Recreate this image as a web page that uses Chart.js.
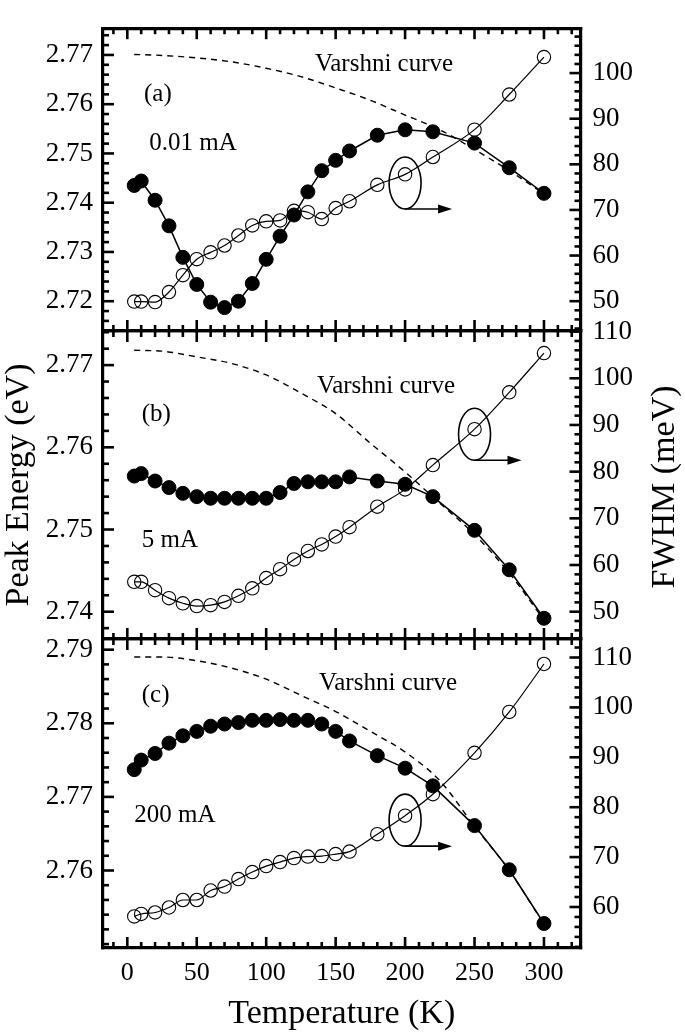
<!DOCTYPE html>
<html>
<head>
<meta charset="utf-8">
<script src="https://cdn.jsdelivr.net/npm/chart.js@4.4.0/dist/chart.umd.min.js"></script>
<style>
  html, body { margin: 0; padding: 0; background: #fff; }
  #wrap { position: relative; width: 685px; height: 1036px; }
  canvas { position: absolute; left: 0; top: 0; }
</style>
</head>
<body>
<div id="wrap">
  <canvas id="panelA" width="685" height="1036"></canvas>
  <canvas id="panelB" width="685" height="1036"></canvas>
  <canvas id="panelC" width="685" height="1036"></canvas>
</div>
<script>
// temperatures of the measured points (K)
const temps = [5, 10, 20, 30, 40, 50, 60, 70, 80, 90, 100, 110, 120, 130, 140, 150, 160, 180, 200, 220, 250, 275, 300];

// (a) 0.01 mA
const peakA = [2.7435, 2.7444, 2.7405, 2.7353, 2.7289, 2.7234, 2.7198, 2.7187, 2.7200, 2.7236, 2.7285, 2.7332,
               2.7375, 2.7422, 2.7465, 2.7486, 2.7505, 2.7537, 2.7548, 2.7544, 2.7521, 2.7471, 2.7419];
const fwhmA = [49.9, 49.9, 49.8, 52.0, 55.7, 59.2, 60.7, 62.2, 64.4, 66.6, 67.5, 67.7,
               69.8, 69.5, 68.0, 70.4, 71.9, 75.5, 77.8, 81.6, 87.6, 95.3, 103.5];

// (b) 5 mA
const peakB = [2.7565, 2.7568, 2.7559, 2.7551, 2.7544, 2.7540, 2.7538, 2.7538, 2.7538, 2.7538, 2.7538, 2.7545,
               2.7556, 2.7558, 2.7558, 2.7558, 2.7564, 2.7559, 2.7555, 2.7540, 2.7499, 2.7451, 2.7392];
const fwhmB = [56.4, 56.4, 54.6, 52.9, 51.8, 51.2, 51.4, 52.1, 53.4, 55.0, 57.2, 59.1,
               61.2, 63.0, 64.4, 66.1, 68.1, 72.5, 76.2, 81.4, 89.1, 97.0, 105.4];

// (c) 200 mA
const peakC = [2.7737, 2.7750, 2.7759, 2.7773, 2.7783, 2.7789, 2.7796, 2.7799, 2.7801, 2.7804, 2.7804, 2.7805,
               2.7804, 2.7804, 2.7799, 2.7789, 2.7776, 2.7756, 2.7739, 2.7715, 2.7661, 2.7601, 2.7528];
const fwhmC = [58.1, 58.6, 58.9, 59.9, 61.4, 61.4, 63.3, 64.1, 65.6, 67.0, 68.2, 69.0,
               69.8, 70.1, 70.2, 70.6, 71.1, 74.6, 78.3, 82.6, 90.9, 99.1, 108.7];

// Varshni curves (dashed)
const varshniT = [5, 25, 50, 75, 100, 125, 150, 175, 200, 225, 250, 275, 300];
const varshniA = [2.7701, 2.7699, 2.7694, 2.7686, 2.7673, 2.7656, 2.7633, 2.7608, 2.7578, 2.7548, 2.7508, 2.7465, 2.7418];
const varshniB = [2.7718, 2.7717, 2.7710, 2.7702, 2.7688, 2.7666, 2.7641, 2.7605, 2.7570, 2.7532, 2.7494, 2.7447, 2.7390];
const varshniC = [2.7890, 2.7890, 2.7885, 2.7875, 2.7860, 2.7838, 2.7816, 2.7789, 2.7761, 2.7722, 2.7660, 2.7600, 2.7527];

// tick labels
const tempTicks = [0, 50, 100, 150, 200, 250, 300];
const eVTicksA = [2.72, 2.73, 2.74, 2.75, 2.76, 2.77];
const eVTicksB = [2.74, 2.75, 2.76, 2.77];
const eVTicksC = [2.76, 2.77, 2.78, 2.79];
const fwhmTicksA = [50, 60, 70, 80, 90, 100];
const fwhmTicksB = [50, 60, 70, 80, 90, 100, 110];
const fwhmTicksC = [60, 70, 80, 90, 100, 110];

Chart.defaults.font.family = "'Liberation Serif', 'Times New Roman', serif";
Chart.defaults.color = '#000';

const isMajor = (v, list) => list.some(m => Math.abs(m - v) < 1e-6);
const pts = (xs, ys) => xs.map((x, i) => ({ x: x, y: ys[i] }));

function stepTicks(s, step) {
  const out = [];
  const k0 = Math.ceil(s.min / step - 1e-6), k1 = Math.floor(s.max / step + 1e-6);
  for (let k = k0; k <= k1; k++) out.push({ value: +(k * step).toFixed(4) });
  s.ticks = out;
}

function makePanel(id, cfg) {
  const majors = { x: tempTicks, x2: tempTicks, y: cfg.eVTicks, y2: cfg.fwhmTicks };

  // inward tick marks on all four sides
  const inTicks = {
    id: 'inTicks',
    beforeDatasetsDraw(chart) {
      const ctx = chart.ctx, a = chart.chartArea;
      ctx.save();
      ctx.strokeStyle = '#000';
      ctx.lineWidth = 2.6;
      ['x', 'x2', 'y', 'y2'].forEach(k => {
        const s = chart.scales[k];
        s.ticks.forEach(t => {
          const p = s.getPixelForValue(t.value);
          const len = isMajor(t.value, majors[k]) ? 11 : 6;
          ctx.beginPath();
          if (k === 'x') { ctx.moveTo(p, a.bottom); ctx.lineTo(p, a.bottom - len); }
          else if (k === 'x2') { ctx.moveTo(p, a.top); ctx.lineTo(p, a.top + len); }
          else if (k === 'y') { ctx.moveTo(a.left, p); ctx.lineTo(a.left + len, p); }
          else { ctx.moveTo(a.right, p); ctx.lineTo(a.right - len, p); }
          ctx.stroke();
        });
      });
      ctx.restore();
    }
  };

  // panel texts, ring and arrow pointing to the right axis
  const notes = {
    id: 'notes',
    afterDatasetsDraw(chart) {
      const ctx = chart.ctx, xs = chart.scales.x, ys = chart.scales.y, ys2 = chart.scales.y2;
      ctx.save();
      ctx.fillStyle = '#000';
      ctx.strokeStyle = '#000';
      ctx.textAlign = 'left';
      ctx.textBaseline = 'alphabetic';
      cfg.labels.forEach(l => {
        ctx.font = l.size + "px 'Liberation Serif', 'Times New Roman', serif";
        ctx.fillText(l.text, xs.getPixelForValue(l.t), ys.getPixelForValue(l.e));
      });
      const cx = xs.getPixelForValue(cfg.ring.t), cy = ys2.getPixelForValue(cfg.ring.w);
      ctx.lineWidth = 1.6;
      ctx.beginPath();
      ctx.ellipse(cx, cy, 16, 26, 0, 0, Math.PI * 2);
      ctx.stroke();
      const ay = cy + 26;
      ctx.beginPath();
      ctx.moveTo(cx, ay);
      ctx.lineTo(cx + 36, ay);
      ctx.stroke();
      ctx.beginPath();
      ctx.moveTo(cx + 47, ay);
      ctx.lineTo(cx + 33, ay - 4.5);
      ctx.lineTo(cx + 33, ay + 4.5);
      ctx.closePath();
      ctx.fill();
      if (cfg.rightTitle) {
        ctx.font = "34px 'Liberation Serif', 'Times New Roman', serif";
        ctx.textAlign = 'center';
        ctx.textBaseline = 'middle';
        ctx.translate(665, (chart.chartArea.top + chart.chartArea.bottom) / 2 + 2);
        ctx.rotate(-Math.PI / 2);
        ctx.fillText(cfg.rightTitle, 0, 0);
      }
      ctx.restore();
    }
  };

  const frame = { display: true, width: 3.2, color: '#000' };
  const noGrid = { display: false, drawTicks: false, lineWidth: 3.2 };

  return new Chart(document.getElementById(id), {
    type: 'scatter',
    data: {
      datasets: [
        {
          data: pts(temps, cfg.peak), yAxisID: 'y', showLine: true,
          borderColor: '#000', borderWidth: 1.5, backgroundColor: '#000',
          pointRadius: 7, pointBorderWidth: 1, pointBackgroundColor: '#000', pointBorderColor: '#000',
          tension: 0, clip: false
        },
        {
          data: pts(temps, cfg.fwhm), yAxisID: 'y2', showLine: true,
          borderColor: '#000', borderWidth: 1.2, backgroundColor: 'rgba(0,0,0,0)',
          pointRadius: 6.7, pointBorderWidth: 1.1, pointBackgroundColor: 'rgba(255,255,255,0)', pointBorderColor: '#000',
          cubicInterpolationMode: 'monotone', clip: false
        },
        {
          data: pts(varshniT, cfg.varshni), yAxisID: 'y', showLine: true,
          borderColor: '#000', borderWidth: 1.4, borderDash: [6, 5],
          pointRadius: 0, cubicInterpolationMode: 'monotone', clip: false
        }
      ]
    },
    options: {
      responsive: false,
      animation: false,
      events: [],
      devicePixelRatio: 1,
      layout: { padding: { top: cfg.top, bottom: cfg.bottom, left: 0, right: 0 } },
      plugins: { legend: { display: false }, tooltip: { enabled: false } },
      scales: {
        x: {
          type: 'linear', position: 'bottom', min: -17.5, max: 326.3,
          grid: noGrid, border: frame,
          ticks: {
            display: cfg.showX, autoSkip: false, maxRotation: 0, padding: 10, font: { size: 26 },
            callback: v => (isMajor(v, tempTicks) ? String(v) : '')
          },
          title: { display: cfg.showX, text: 'Temperature (K)', font: { size: 34 }, padding: { top: 0, bottom: 2 } },
          afterBuildTicks: s => stepTicks(s, 10),
          afterFit: s => { s.height = cfg.showX ? 88 : 0; }
        },
        x2: {
          type: 'linear', position: 'top', min: -17.5, max: 326.3,
          grid: noGrid, border: frame,
          ticks: { display: false },
          afterBuildTicks: s => stepTicks(s, 10),
          afterFit: s => { s.height = 0; }
        },
        y: {
          type: 'linear', position: 'left', min: cfg.eVRange[0], max: cfg.eVRange[1],
          grid: noGrid, border: frame,
          ticks: {
            autoSkip: false, padding: 10, font: { size: 27 },
            callback: v => (isMajor(v, cfg.eVTicks) ? v.toFixed(2) : '')
          },
          title: { display: !!cfg.leftTitle, text: cfg.leftTitle || '', font: { size: 34, lineHeight: 1 }, padding: { top: 2, bottom: 0 } },
          afterBuildTicks: s => stepTicks(s, 0.002),
          afterFit: s => { s.width = 103; }
        },
        y2: {
          type: 'linear', position: 'right', min: cfg.fwhmRange[0], max: cfg.fwhmRange[1],
          grid: noGrid, border: frame,
          ticks: {
            autoSkip: false, padding: 12, font: { size: 27 },
            callback: v => (isMajor(v, cfg.fwhmTicks) ? String(v) : '')
          },
          afterBuildTicks: s => stepTicks(s, 2),
          afterFit: s => { s.width = 104.5; }
        }
      }
    },
    plugins: [inTicks, notes]
  });
}

makePanel('panelA', {
  top: 6, bottom: 705, showX: false,
  peak: peakA, fwhm: fwhmA, varshni: varshniA,
  eVRange: [2.71395, 2.77543], fwhmRange: [43.46, 109.84],
  eVTicks: eVTicksA, fwhmTicks: fwhmTicksA,
  labels: [
    { text: 'Varshni curve', t: 135.1, e: 2.76673, size: 25 },
    { text: '(a)', t: 12.0, e: 2.76067, size: 25 },
    { text: '0.01 mA', t: 15.8, e: 2.75065, size: 25 }
  ],
  ring: { t: 200, w: 75.9 }
});

makePanel('panelB', {
  top: 331, bottom: 397, showX: false,
  peak: peakB, fwhm: fwhmB, varshni: varshniB,
  eVRange: [2.73668, 2.77415], fwhmRange: [44.15, 110.13],
  eVTicks: eVTicksB, fwhmTicks: fwhmTicksB,
  leftTitle: 'Peak Energy (eV)', rightTitle: 'FWHM (meV)',
  labels: [
    { text: 'Varshni curve', t: 136.5, e: 2.76661, size: 25 },
    { text: '(b)', t: 10.4, e: 2.76326, size: 25 },
    { text: '5 mA', t: 10.4, e: 2.74783, size: 25 }
  ],
  ring: { t: 250, w: 88.0 }
});

makePanel('panelC', {
  top: 639, bottom: 0, showX: true,
  peak: peakC, fwhm: fwhmC, varshni: varshniC,
  eVRange: [2.74947, 2.79145], fwhmRange: [51.78, 113.71],
  eVTicks: eVTicksC, fwhmTicks: fwhmTicksC,
  labels: [
    { text: 'Varshni curve', t: 138.0, e: 2.78452, size: 25 },
    { text: '(c)', t: 10.4, e: 2.78289, size: 25 },
    { text: '200 mA', t: 5.0, e: 2.76663, size: 25 }
  ],
  ring: { t: 200, w: 77.4 }
});
</script>
</body>
</html>
